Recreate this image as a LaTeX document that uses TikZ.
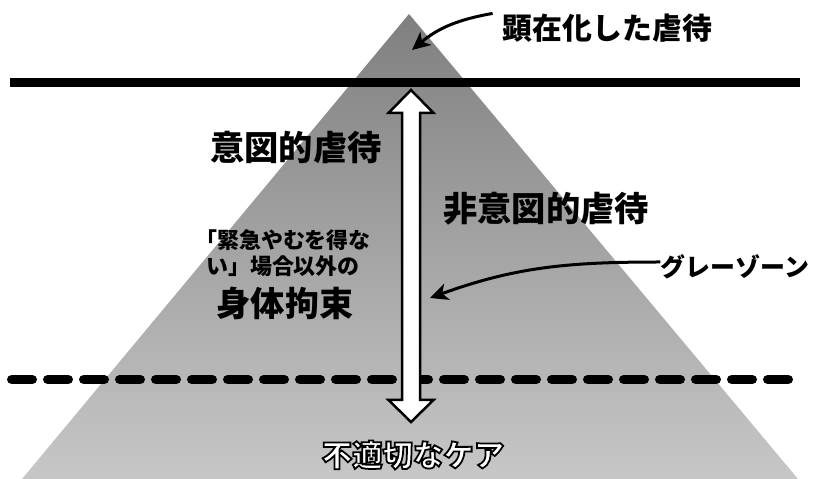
\documentclass[tikz,border=0pt]{standalone}
\usepackage{fontspec}
\setmainfont{Noto Sans CJK JP}
\usetikzlibrary{arrows.meta}

\begin{document}
\begin{tikzpicture}[
    pointer/.style={line width=0.06cm, -{Stealth[length=0.36cm,width=0.34cm,inset=0.1cm]}},
    bigtext/.style={font=\fontsize{19.5pt}{22pt}\selectfont\bfseries, inner sep=0pt},
    midtext/.style={font=\fontsize{14.2pt}{16pt}\selectfont\bfseries, inner sep=0pt},
    smalltext/.style={font=\fontsize{12.5pt}{14.8pt}\selectfont\bfseries, inner sep=0pt, align=center},
    care/.style={font=\fontsize{17.3pt}{20pt}\selectfont\bfseries, inner sep=0pt}
  ]
      \useasboundingbox (0,0) rectangle (16.5,9.58);

      % pyramid
      \shade[top color=black!50, bottom color=black!22] (8.18,9.30) -- (15.96,0) -- (0.44,0) -- cycle;

      % border lines
      \draw[line width=0.18cm] (0.2,7.93) -- (16.0,7.93);
      \draw[line width=0.19cm, line cap=round, dash pattern=on 0.41cm off 0.31cm] (0.235,1.99) -- (15.8,1.99);

      % double arrow
      \draw[line width=0.05cm, fill=white] (8.22,7.78) -- (8.67,7.32) -- (8.40,7.32) -- (8.40,1.58)
        -- (8.67,1.58) -- (8.22,1.14) -- (7.77,1.58) -- (8.04,1.58) -- (8.04,7.32) -- (7.77,7.32) -- cycle;

      % outlined text: white fill, black stroke
      \node[care, text=white] (care) at (8.26,0.48)
        {\special{pdf:literal direct 0 G 1 w 2 Tr}不適切なケア\special{pdf:literal direct 0 Tr}};

      \node[font=\fontsize{17pt}{20pt}\selectfont\bfseries, inner sep=0pt] (top) at (12.15,9.02) {顕在化した虐待};
      \node[bigtext] (intent) at (5.92,6.64) {意図的虐待};
      \node[bigtext] (nonintent) at (10.92,5.40) {非意図的虐待};
      \node[smalltext] (except) at (5.66,4.52) {「緊急やむを得な\\い」場合以外の};
      \node[bigtext] (restraint) at (5.70,3.52) {身体拘束};
      \node[midtext] (gray) at (14.7,4.24) {グレーゾーン};

      \coordinate (toptip) at (8.24,8.58);
      \coordinate (graytip) at (8.6,3.62);
      \draw[pointer] ([xshift=-0.2cm]top.north west) to[out=190,in=40] (toptip);
      \draw[pointer] ([yshift=0.1cm]gray.west) to[out=180,in=20] (graytip);

\end{tikzpicture}
\end{document}
